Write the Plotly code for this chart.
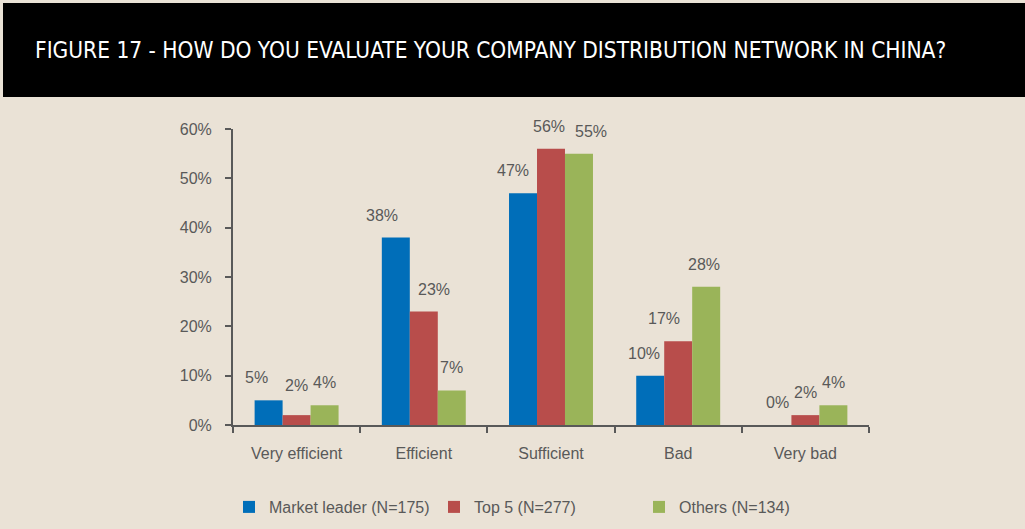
#Importing libraries
import plotly.graph_objects as go

#Chart data
categories = ['Very efficient', 'Efficient', 'Sufficient', 'Bad', 'Very bad']
series_names = ['Market leader (N=175)', 'Top 5 (N=277)', 'Others (N=134)']
market_leader = [5, 38, 47, 10, 0]
top5 = [2, 23, 56, 17, 2]
others = [4, 7, 55, 28, 4]
y_ticks = [0, 10, 20, 30, 40, 50, 60]
y_tick_labels = ['0%', '10%', '20%', '30%', '40%', '50%', '60%']
title_text = 'FIGURE 17 - HOW DO YOU EVALUATE YOUR COMPANY DISTRIBUTION NETWORK IN CHINA?'

colors = ['#006EB9', '#B84D4B', '#9AB459']
bg = '#EAE2D6'
grey = '#595959'
font = 'Liberation Sans, Arial, sans-serif'

#hand nudges (px) of the data labels, as placed in the original
label_dx = [[-12, -14, -10, -6, 0], [0, 10, -2, -14, 0], [0, 0, 12, -2, 0]]
label_dy = [[0, 0, 0, 0, 0], [7, 0, 0, 0, 0], [0, 0, 0, 0, 0]]

fig = go.Figure()
all_values = [market_leader, top5, others]
for name, vals, col in zip(series_names, all_values, colors):
    fig.add_trace(go.Bar(x=categories, y=vals, name=name, marker_color=col,
                         marker_line_width=0))

#Data labels as annotations above each bar
bar_w = (1 - 0.34) / 3
for j, vals in enumerate(all_values):
    for i, v in enumerate(vals):
        fig.add_annotation(x=i + (j - 1) * bar_w, y=v, text=f'{v}%', showarrow=False,
                           yanchor='bottom', yshift=12 + label_dy[j][i],
                           xshift=label_dx[j][i], xref='x', yref='y',
                           font=dict(family=font, size=16, color=grey))

#Black title band
fig.add_shape(type='rect', xref='paper', yref='paper',
              x0=(3 - 233) / 636, x1=(1030 - 233) / 636,
              y0=(425 - 97) / 296, y1=(425 - 3) / 296,
              fillcolor='black', line_width=0, layer='below')

fig.update_layout(
    width=1025, height=529,
    margin=dict(l=233, r=156, t=129, b=104, autoexpand=False),
    paper_bgcolor=bg, plot_bgcolor=bg,
    barmode='group', bargap=0.34, bargroupgap=0,
    title=dict(text=title_text, x=35 / 1025, xanchor='left', xref='container',
               y=1 - 50 / 529, yanchor='middle', yref='container',
               font=dict(family='DejaVu Sans Condensed, Liberation Sans Narrow, Liberation Sans',
                         size=22.5, color='white')),
    font=dict(family=font, size=16, color=grey),
    legend=dict(orientation='h', x=(229 - 233) / 636, xanchor='left',
                y=(425 - 507) / 296, yanchor='middle',
                entrywidth=160, entrywidthmode='pixels',
                font=dict(family=font, size=16, color=grey),
                bgcolor='rgba(0,0,0,0)'),
    showlegend=True,
)
fig.update_xaxes(showline=True, linecolor=grey, linewidth=2, ticks='outside',
                 tickson='boundaries', ticklen=6, tickcolor=grey, tickwidth=2,
                 ticklabelstandoff=13, showgrid=False,
                 tickfont=dict(family=font, size=16, color=grey))
fig.update_yaxes(range=[0, 60], tickvals=y_ticks, ticktext=y_tick_labels,
                 showline=True, linecolor=grey, linewidth=2, ticks='outside',
                 ticklen=6, tickcolor=grey, tickwidth=2, showgrid=False,
                 zeroline=False, ticklabelstandoff=10,
                 tickfont=dict(family=font, size=16, color=grey))

#page body margin off so the figure sits at the window corner
fig.write_html("out.html", config={'displayModeBar': False},
               post_script="document.body.style.margin='0';")
